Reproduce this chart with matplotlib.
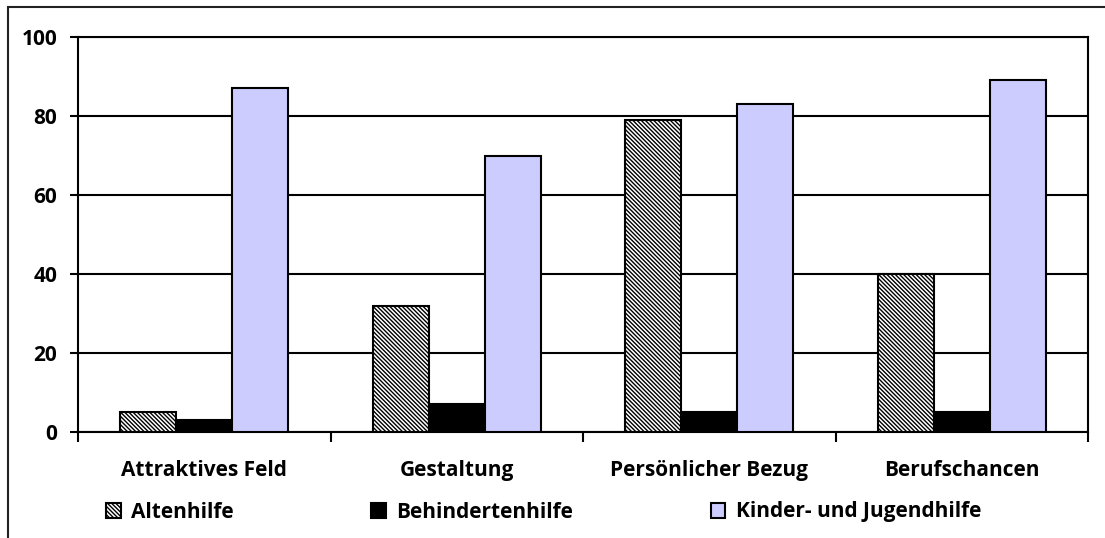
import matplotlib.pyplot as plt
import numpy as np
from matplotlib.patches import Rectangle

plt.rcParams['font.family'] = ['Open Sans', 'DejaVu Sans']
plt.rcParams['hatch.color'] = '#606060'
plt.rcParams['hatch.linewidth'] = 1.0

categories = ["Attraktives Feld", "Gestaltung", "Persönlicher Bezug", "Berufschancen"]
altenhilfe = [5, 32, 79, 40]
behindertenhilfe = [3, 7, 5, 5]
kinder_jugend = [87, 70, 83, 89]
series_names = ["Altenhilfe", "Behindertenhilfe", "Kinder- und Jugendhilfe"]
yticks = [0, 20, 40, 60, 80, 100]

fig = plt.figure(figsize=(11.05, 5.38), dpi=100)
ax = fig.add_axes([78 / 1105, 1 - 432 / 538, 1010 / 1105, 395 / 538])

# outer chart frame (only left and top visible in the original)
fig.patches.append(Rectangle((8 / 1105, -0.1), 1.2, 1.1 - 7 / 538, transform=fig.transFigure,
                             fill=False, edgecolor='#222222', linewidth=1.5))

x = np.arange(len(categories))
w = 1 / 4.5
ax.bar(x - w, altenhilfe, w, color='white', edgecolor='black', hatch='\\' * 8, linewidth=1.5,
       label=series_names[0], zorder=3)
ax.bar(x, behindertenhilfe, w, color='black', edgecolor='black', linewidth=1.5,
       label=series_names[1], zorder=3)
ax.bar(x + w, kinder_jugend, w, color='#CCCCFF', edgecolor='black', linewidth=1.5,
       label=series_names[2], zorder=3)

ax.set_xlim(-0.5, len(categories) - 0.5)
ax.set_ylim(0, 100)
ax.set_yticks(yticks)
ax.yaxis.grid(True, color='black', linewidth=1.5, zorder=0)
ax.set_xticks(x)
ax.set_xticklabels(categories, fontsize=15, fontweight='bold')
ax.set_xticks(np.arange(len(categories) + 1) - 0.5, minor=True)
ax.tick_params(axis='x', which='major', length=0, pad=20)
ax.tick_params(axis='x', which='minor', length=7, width=1.5, direction='out')
ax.tick_params(axis='y', length=6, width=1.5, pad=9, labelsize=15)
for lab in ax.get_yticklabels():
    lab.set_fontweight('bold')
for sp in ax.spines.values():
    sp.set_linewidth(1.5)
    sp.set_color('black')

fig.legend(loc='center left', bbox_to_anchor=(98 / 1105, 1 - 512 / 538), ncol=3, frameon=False,
           prop={'size': 15, 'weight': 'bold'}, handlelength=0.7, handleheight=0.7,
           handletextpad=0.5, columnspacing=6.6, borderaxespad=0)

fig.savefig("out.png", dpi=100)
